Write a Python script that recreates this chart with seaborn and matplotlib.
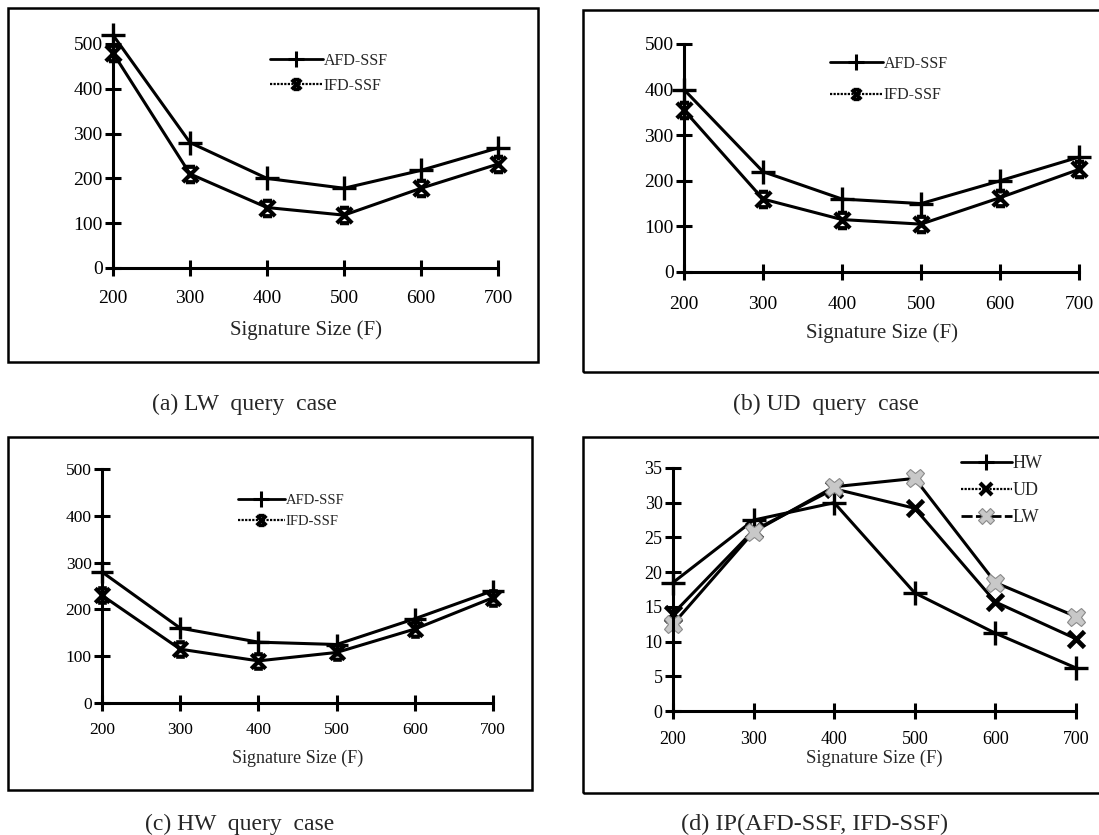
import numpy as np
import pandas as pd
import seaborn as sns
import matplotlib.pyplot as plt
from matplotlib.path import Path
from matplotlib.lines import Line2D
from matplotlib.patches import Rectangle

# ---------------- data ----------------
sizes = [200, 300, 400, 500, 600, 700]

lw_afd = [520, 280, 200, 178, 218, 268]
lw_ifd = [480, 210, 135, 118, 178, 232]

ud_afd = [400, 220, 160, 150, 200, 252]
ud_ifd = [355, 160, 115, 105, 163, 225]

hw_afd = [280, 160, 130, 125, 180, 240]
hw_ifd = [230, 115, 90, 108, 158, 225]

ip_hw = [18.5, 27.5, 30.0, 17.0, 11.2, 6.2]
ip_ud = [14.0, 26.0, 32.0, 29.2, 15.7, 10.4]
ip_lw = [12.5, 25.8, 32.3, 33.5, 18.5, 13.6]

yticks_cost = [0, 100, 200, 300, 400, 500]
yticks_ip = [0, 5, 10, 15, 20, 25, 30, 35]

xlabel_text = "Signature Size (F)"
captions = ["(a) LW  query  case", "(b) UD  query  case",
            "(c) HW  query  case", "(d) IP(AFD-SSF, IFD-SSF)"]

# ---------------- style ----------------
sns.set_style("white")
plt.rcParams['font.family'] = ['Liberation Serif', 'DejaVu Serif']

W, H = 1099, 835
fig = plt.figure(figsize=(W / 100, H / 100), dpi=100)

def rect(l, r, t, b):
    return [l / W, 1 - b / H, (r - l) / W, (b - t) / H]

# hourglass-like star marker for IFD-SSF
ifd_marker = Path(
    [(-1, -1), (1, 1), (-1, 1), (1, -1), (-0.6, 1), (0.6, 1), (-0.6, -1), (0.6, -1)],
    [Path.MOVETO, Path.LINETO, Path.MOVETO, Path.LINETO,
     Path.MOVETO, Path.LINETO, Path.MOVETO, Path.LINETO])

def frame(l, t, r, b):
    fig.patches.append(Rectangle((l / W, 1 - b / H), (r - l) / W, (b - t) / H,
                                 transform=fig.transFigure, fill=False,
                                 edgecolor='black', lw=1.8, clip_on=False))

def setup_axes(ax, yticks, ymax, tsize, pad, xlab_y, xlab_size, ax_px):
    l, r, t, b = ax_px
    ax.set_xlim(200, 700)
    ax.set_ylim(0, ymax)
    ax.set_xticks(sizes)
    ax.set_yticks(yticks)
    ax.set_facecolor('none')
    for s in ['top', 'right']:
        ax.spines[s].set_visible(False)
    for s in ['left', 'bottom']:
        ax.spines[s].set_linewidth(2.2)
        ax.spines[s].set_color('black')
    ax.tick_params(axis='both', direction='inout', length=11, width=2.2,
                   colors='black', labelsize=tsize, bottom=True, left=True)
    ax.tick_params(axis='y', pad=2)
    ax.tick_params(axis='x', pad=pad)
    ax.set_xlabel(xlabel_text, fontsize=xlab_size)
    ax.set_ylabel('')
    ax.xaxis.label.set_verticalalignment('center')
    ax.xaxis.set_label_coords(0.5, (b - xlab_y) / (b - t))
    ax.grid(False)

def pair_plot(ax, afd, ifd, ms):
    sns.lineplot(x=sizes, y=afd, ax=ax, color='black', lw=2.2, marker='+',
                 markersize=ms, markeredgewidth=2.4, markeredgecolor='black',
                 clip_on=False, legend=False)
    sns.lineplot(x=sizes, y=ifd, ax=ax, color='black', lw=2.2, marker=ifd_marker,
                 markersize=ms * 0.65, markeredgewidth=3.0, markeredgecolor='black',
                 markerfacecolor='none', clip_on=False, legend=False)

def pair_legend(ax, x, y, fsize, spacing, hlen):
    handles = [
        Line2D([], [], color='black', lw=2.0, marker='+', markersize=11,
               markeredgewidth=2.2, markeredgecolor='black'),
        Line2D([], [], color='black', lw=1.6, ls=(0, (1, 0.6)), marker=ifd_marker,
               markersize=7, markeredgewidth=2.6, markeredgecolor='black',
               markerfacecolor='none'),
    ]
    ax.legend(handles, ['AFD-SSF', 'IFD-SSF'], loc='upper left',
              bbox_to_anchor=(x / W, 1 - y / H), bbox_transform=fig.transFigure,
              frameon=False, fontsize=fsize, borderpad=0, borderaxespad=0,
              handlelength=hlen, handletextpad=0.05, labelspacing=spacing)

# ---------------- panel (a) ----------------
frame(8, 8, 538, 362)
pa = (113, 498, 44, 268)
ax_a = fig.add_axes(rect(*pa))
pair_plot(ax_a, lw_afd, lw_ifd, 17)
setup_axes(ax_a, yticks_cost, 500, 14, 10, 330, 15, pa)
pair_legend(ax_a, 270, 53, 11.5, 0.55, 3.3)

# ---------------- panel (b) ----------------
frame(583, 10, 1105, 372)
pb = (684, 1079, 44, 272)
ax_b = fig.add_axes(rect(*pb))
pair_plot(ax_b, ud_afd, ud_ifd, 17)
setup_axes(ax_b, yticks_cost, 500, 14, 12, 333, 15, pb)
pair_legend(ax_b, 830, 56, 11.5, 0.95, 3.3)

# ---------------- panel (c) ----------------
frame(8, 437, 532, 790)
pc = (102, 493, 469, 703)
ax_c = fig.add_axes(rect(*pc))
pair_plot(ax_c, hw_afd, hw_ifd, 16)
setup_axes(ax_c, yticks_cost, 500, 12.5, 8, 758, 13, pc)
pair_legend(ax_c, 238, 494, 10.5, 0.5, 3.2)

# ---------------- panel (d) ----------------
frame(583, 437, 1105, 793)
pd_ = (673, 1076, 468, 711)
ax_d = fig.add_axes(rect(*pd_))
sns.lineplot(x=sizes, y=ip_hw, ax=ax_d, color='black', lw=2.2, marker='+',
             markersize=17, markeredgewidth=2.4, markeredgecolor='black',
             clip_on=False, legend=False)
sns.lineplot(x=sizes, y=ip_ud, ax=ax_d, color='black', lw=2.2, marker='x',
             markersize=12, markeredgewidth=3.4, markeredgecolor='black',
             clip_on=False, legend=False)
sns.lineplot(x=sizes, y=ip_lw, ax=ax_d, color='black', lw=2.2, marker='X',
             markersize=13, markeredgewidth=0.8, markerfacecolor='#c8c8c8',
             markeredgecolor='#8a8a8a', clip_on=False, legend=False)
setup_axes(ax_d, yticks_ip, 35, 13, 9, 758, 13.5, pd_)
handles_d = [
    Line2D([], [], color='black', lw=2.0, marker='+', markersize=12,
           markeredgewidth=2.2, markeredgecolor='black'),
    Line2D([], [], color='black', lw=1.6, ls=(0, (1, 0.6)), marker='x',
           markersize=9, markeredgewidth=3.0, markeredgecolor='black'),
    Line2D([], [], color='black', lw=2.0, ls=(0, (4, 1.2)), marker='X', markersize=11,
           markeredgewidth=0.8, markerfacecolor='#c8c8c8', markeredgecolor='#8a8a8a'),
]
ax_d.legend(handles_d, ['HW', 'UD', 'LW'], loc='upper left',
            bbox_to_anchor=(961 / W, 1 - 455 / H), bbox_transform=fig.transFigure,
            frameon=False, fontsize=13, borderpad=0, borderaxespad=0,
            handlelength=2.8, handletextpad=0.05, labelspacing=0.55)

# ---------------- captions ----------------
fig.text(244 / W, 1 - 404 / H, captions[0], ha='center', va='center', fontsize=17)
fig.text(826 / W, 1 - 404 / H, captions[1], ha='center', va='center', fontsize=17)
fig.text(240 / W, 1 - 824 / H, captions[2], ha='center', va='center', fontsize=17)
fig.text(815 / W, 1 - 824 / H, captions[3], ha='center', va='center', fontsize=17.5)

fig.savefig('out.png', dpi=100)
